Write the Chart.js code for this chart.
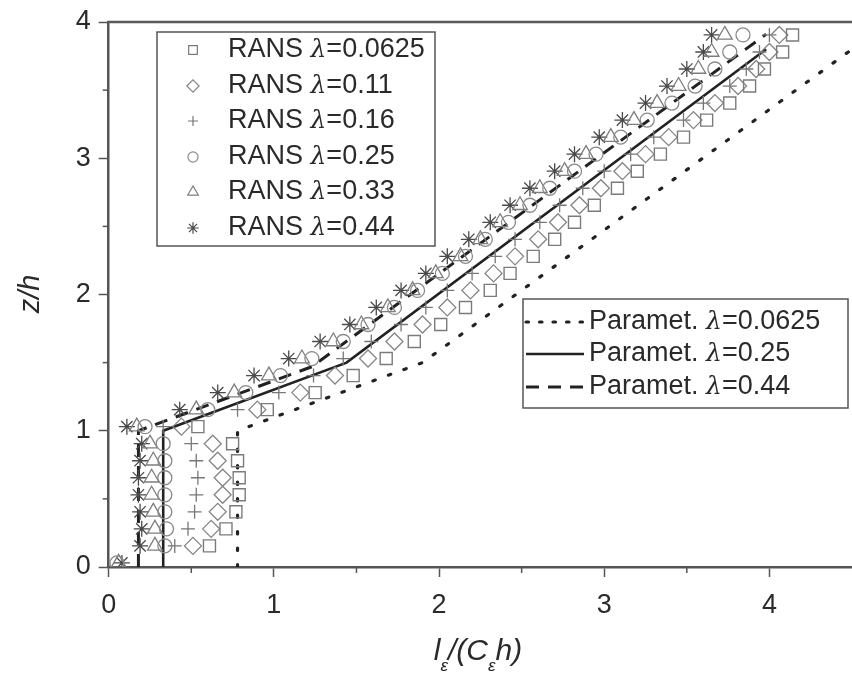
<!DOCTYPE html>
<html><head><meta charset="utf-8">
<script src="https://cdn.jsdelivr.net/npm/chart.js@4/dist/chart.umd.min.js"></script>
<style>html,body{margin:0;padding:0;background:#fff;overflow:hidden}</style>
</head><body>
<canvas id="c" width="852" height="678" style="width:852px;height:678px;display:block"></canvas>
<script>
// ---- data ----
const zRANS = [0.03,0.155,0.28,0.405,0.53,0.655,0.78,0.905,1.03,1.155,1.28,1.405,1.53,1.655,1.78,1.905,2.03,2.155,2.28,2.405,2.53,2.655,2.78,2.905,3.03,3.155,3.28,3.405,3.53,3.655,3.78,3.905];
const xRANS_0625 = [null,0.61,0.71,0.77,0.79,0.79,0.78,0.75,0.54,0.96,1.25,1.48,1.68,1.85,2.01,2.16,2.31,2.43,2.57,2.70,2.82,2.94,3.08,3.20,3.34,3.48,3.62,3.76,3.88,3.97,4.08,4.14];
const xRANS_011  = [null,0.51,0.62,0.66,0.69,0.69,0.66,0.63,0.44,0.90,1.16,1.37,1.57,1.73,1.90,2.05,2.19,2.33,2.46,2.60,2.72,2.85,2.98,3.11,3.25,3.39,3.54,3.67,3.81,3.92,4.00,4.06];
const xRANS_016  = [null,0.40,0.48,0.52,0.53,0.54,0.53,0.50,0.33,0.78,1.03,1.24,1.42,1.59,1.77,1.92,2.05,2.20,2.34,2.46,2.61,2.73,2.87,3.00,3.16,3.30,3.48,3.60,3.76,3.86,3.94,4.00];
const xRANS_025  = [0.05,0.34,0.35,0.34,0.34,0.34,0.34,0.33,0.22,0.60,0.83,1.04,1.23,1.42,1.57,1.73,1.87,2.02,2.16,2.28,2.42,2.55,2.67,2.82,2.95,3.10,3.26,3.41,3.55,3.67,3.76,3.84];
const xRANS_033  = [0.06,0.28,0.28,0.27,0.26,0.26,0.27,0.25,0.17,0.53,0.76,0.97,1.17,1.36,1.53,1.69,1.84,1.98,2.13,2.25,2.37,2.49,2.61,2.76,2.89,3.04,3.18,3.32,3.45,3.57,3.65,3.73];
const xRANS_044  = [0.08,0.19,0.20,0.19,0.18,0.18,0.19,0.20,0.11,0.43,0.66,0.88,1.09,1.28,1.46,1.62,1.77,1.92,2.05,2.18,2.31,2.43,2.55,2.70,2.82,2.97,3.11,3.25,3.38,3.50,3.60,3.65];

const xParam_0625 = [0.78,0.78,1.90,4.50];
const zParam_0625 = [0.00,1.00,1.50,3.80];
const xParam_025  = [0.33,0.33,1.44,3.98];
const zParam_025  = [0.00,1.00,1.50,3.80];
const xParam_044  = [0.18,0.18,1.23,3.98];
const zParam_044  = [0.00,1.00,1.47,3.91];

const xTicks = [0,1,2,3,4];
const yTicks = [0,1,2,3,4];
const ransLabels = ['0.0625','0.11','0.16','0.25','0.33','0.44'];
const paramLabels = ['0.0625','0.25','0.44'];

// ---- build ----
function pts(xs, zs){ const out=[]; xs.forEach((x,i)=>{ if(x!==null) out.push({x:x,y:zs[i]}); }); return out; }

const FONT = '"Liberation Sans", Arial, sans-serif';
const ransStyles = [
  {style:'rect',    r:8.5, color:'#7b7b7b', w:1.4},
  {style:'rectRot', r:8.5, color:'#858585', w:1.3},
  {style:'cross',   r:7,   color:'#777777', w:1.3},
  {style:'circle',  r:7,   color:'#8a8a8a', w:1.3},
  {style:'triangle',r:8.5, color:'#7e7e7e', w:1.3},
  {style:'star',    r:8,   color:'#4a4a4a', w:1.3}
];
const ransData = [xRANS_0625,xRANS_011,xRANS_016,xRANS_025,xRANS_033,xRANS_044];
const lineStyles = [
  {dash:[2.5,14], w:3.2, cap:'round'},
  {dash:[], w:2.6, cap:'butt'},
  {dash:[13,9], w:3, cap:'butt'}
];
const legendDash = [[2.5,11],[],[13,9]];
const paramData = [[xParam_0625,zParam_0625],[xParam_025,zParam_025],[xParam_044,zParam_044]];

const datasets = [];
ransData.forEach((xs,i)=>{
  const s = ransStyles[i];
  datasets.push({label:'RANS λ='+ransLabels[i], data:pts(xs,zRANS), showLine:false,
    pointStyle:s.style, pointRadius:s.r, pointBorderColor:s.color, pointBackgroundColor:'rgba(0,0,0,0)',
    pointBorderWidth:s.w, pointHoverRadius:s.r});
});
paramData.forEach((p,i)=>{
  const s = lineStyles[i];
  datasets.push({label:'Paramet. λ='+paramLabels[i], data:pts(p[0],p[1]), showLine:true,
    borderColor:'#222', borderWidth:s.w, borderDash:s.dash, borderCapStyle:s.cap, pointRadius:0, tension:0, fill:false});
});

function drawMarker(ctx, style, x, y, r, color, w){
  if (Chart.helpers && Chart.helpers.drawPoint) {
    ctx.save(); ctx.strokeStyle=color; ctx.fillStyle='rgba(0,0,0,0)'; ctx.lineWidth=w;
    Chart.helpers.drawPoint(ctx,{pointStyle:style, rotation:0, borderWidth:w, radius:r}, x, y);
    ctx.restore();
  }
}

function richText(ctx, parts, x, y){
  let cx = x;
  parts.forEach(p=>{ ctx.font = p[1]; ctx.fillText(p[0], cx, y + (p[2]||0)); cx += ctx.measureText(p[0]).width; });
  return cx;
}
function richWidth(ctx, parts){
  let w=0; parts.forEach(p=>{ ctx.font=p[1]; w+=ctx.measureText(p[0]).width; }); return w;
}

const stretch = {
  id:'stretch',
  afterLayout(chart){
    const x = chart.scales.x, ca = chart.chartArea, target = chart.width;
    const d = target - x.right;
    if (d > 0.5) {
      x.right = target; x.width += d;
      ca.right = target; ca.width += d;
      x.configure();
    }
  }
};

const decor = {
  id:'decor',
  afterDraw(chart){
    const ctx = chart.ctx, ca = chart.chartArea, xs = chart.scales.x, ys = chart.scales.y;
    ctx.save();
    // top frame line
    ctx.strokeStyle='#5a5a5a'; ctx.lineWidth=2.5;
    ctx.beginPath(); ctx.moveTo(ca.left-1, ca.top); ctx.lineTo(852, ca.top); ctx.stroke();
    // minor ticks
    ctx.lineWidth=1.5; ctx.strokeStyle='#555';
    [0.5,1.5,2.5,3.5].forEach(v=>{ const px=xs.getPixelForValue(v); ctx.beginPath(); ctx.moveTo(px,ca.bottom); ctx.lineTo(px,ca.bottom+6); ctx.stroke(); });
    [0.5,1.5,2.5,3.5].forEach(v=>{ const py=ys.getPixelForValue(v); ctx.beginPath(); ctx.moveTo(ca.left,py); ctx.lineTo(ca.left-6,py); ctx.stroke(); });

    ctx.fillStyle='#2a2a2a'; ctx.textBaseline='alphabetic';
    // y title
    ctx.save(); ctx.translate(39, 294); ctx.rotate(-Math.PI/2);
    ctx.font='italic 29px '+FONT; ctx.textAlign='center'; ctx.fillText('z/h',0,0); ctx.restore();
    // x title
    ctx.textAlign='left';
    const big='italic 30px '+FONT, small='italic 17px '+FONT;
    const parts=[['l',big],['ε',small,11],['/(C',big],['ε',small,11],['h)',big]];
    const tw = richWidth(ctx, parts);
    richText(ctx, parts, 478 - tw/2, 660);

    // legend 1
    ctx.fillStyle='#fff'; ctx.strokeStyle='#555'; ctx.lineWidth=1.5;
    ctx.fillRect(157,32,278,214); ctx.strokeRect(157,32,278,214);
    const rowsY=[50,86,121,157,192,228];
    ctx.textBaseline='middle';
    rowsY.forEach((y,i)=>{
      const s=ransStyles[i];
      drawMarker(ctx, s.style, 193, y, s.r*0.72, s.color, 1.2);
      ctx.fillStyle='#2a2a2a';
      richText(ctx, [['RANS ','27px '+FONT],['λ','italic 25px "DejaVu Serif", serif'],['='+ransLabels[i],'27px '+FONT]], 228, y);
    });
    // legend 2
    ctx.fillStyle='#fff'; ctx.strokeStyle='#555'; ctx.lineWidth=1.5;
    ctx.fillRect(523,299,325,109); ctx.strokeRect(523,299,325,109);
    const rows2=[322,354,387];
    rows2.forEach((y,i)=>{
      const s=lineStyles[i];
      ctx.save(); ctx.strokeStyle='#222'; ctx.lineWidth=s.w; ctx.setLineDash(legendDash[i]); ctx.lineCap=s.cap;
      ctx.beginPath(); ctx.moveTo(526,y); ctx.lineTo(584,y); ctx.stroke(); ctx.restore();
      ctx.fillStyle='#2a2a2a';
      richText(ctx, [['Paramet. ','27px '+FONT],['λ','italic 25px "DejaVu Serif", serif'],['='+paramLabels[i],'27px '+FONT]], 589, y);
    });
    ctx.restore();
  }
};

new Chart(document.getElementById('c'), {
  type:'scatter',
  data:{datasets:datasets},
  options:{
    responsive:false, animation:false, devicePixelRatio:1,
    layout:{padding:{top:22,right:0,left:0,bottom:0}},
    plugins:{legend:{display:false}, tooltip:{enabled:false}},
    scales:{
      x:{type:'linear', min:0, max:4.5,
        afterFit(s){ s.height = 111; s.paddingLeft=0; s.paddingRight=0; },
        afterBuildTicks(s){ s.ticks = [0,0.5,1,1.5,2,2.5,3,3.5,4,4.5].map(v=>({value:v})); },
        border:{display:true, color:'#555', width:2.5},
        grid:{drawOnChartArea:false, drawTicks:true, tickLength:10, tickWidth:1.5,
          tickColor:(c)=> (c.tick && xTicks.includes(c.tick.value)) ? '#555' : 'rgba(0,0,0,0)'},
        ticks:{autoSkip:false, maxRotation:0, padding:12, color:'#2a2a2a', font:{family:FONT, size:27},
          callback:(v)=> xTicks.includes(v) ? String(v) : ''}
      },
      y:{type:'linear', min:0, max:4,
        afterFit(s){ s.width = 108.7; s.paddingTop=0; s.paddingBottom=0; },
        afterBuildTicks(s){ s.ticks = [0,0.5,1,1.5,2,2.5,3,3.5,4].map(v=>({value:v})); },
        border:{display:true, color:'#555', width:2.5},
        grid:{drawOnChartArea:false, drawTicks:true, tickLength:10, tickWidth:1.5,
          tickColor:(c)=> (c.tick && yTicks.includes(c.tick.value)) ? '#555' : 'rgba(0,0,0,0)'},
        ticks:{autoSkip:false, padding:8, color:'#2a2a2a', font:{family:FONT, size:27},
          callback:(v)=> yTicks.includes(v) ? String(v) : ''}
      }
    }
  },
  plugins:[stretch, decor]
});
</script>
</body></html>
